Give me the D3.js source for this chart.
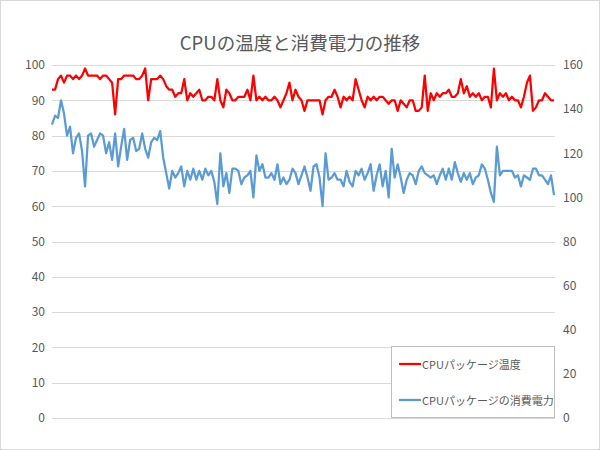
<!DOCTYPE html>
<html><head><meta charset="utf-8">
<script src="https://cdn.jsdelivr.net/npm/d3@7"></script>
<style>
html,body{margin:0;padding:0;background:#fff;}
svg{display:block;font-family:"Noto Sans CJK JP","Noto Sans",sans-serif;}
</style></head>
<body>
<svg id="chart" width="600" height="450"></svg>
<script>
const title = "CPUの温度と消費電力の推移";
const seriesNames = ["CPUパッケージ温度", "CPUパッケージの消費電力"];
const leftTicks = [0,10,20,30,40,50,60,70,80,90,100];
const rightTicks = [0,20,40,60,80,100,120,140,160];

const temperature = [
 93,93,96,97,95,97,97,96,97,96,
 97,99,97,97,97,97,96,97,97,96,
 95,86,96,96,97,97,97,97,96,96,
 97,99,90,96,96,96,97,96,94,93,
 93,91,92,92,96,90,92,91,92,93,
 90,90,91,91,90,96,90,88,93,92,
 90,90,91,91,91,93,90,97,90,91,
 90,91,90,90,91,90,88,90,92,95,
 90,93,91,90,87,90,90,90,90,90,
 86,90,91,91,93,91,88,91,90,91,
 90,96,93,90,88,91,90,91,90,91,
 91,90,89,90,90,87,90,89,88,90,
 90,87,87,88,97,87,92,90,92,91,
 92,92,93,91,91,92,96,92,94,91,
 92,91,92,90,91,91,88,99,90,92,
 91,92,90,91,90,90,88,91,95,97,
 87,88,90,90,92,91,90,90
];

const power = [
 133,137,136,144,138,128,132,120,127,129,
 121,105,128,129,123,126,129,128,120,125,
 117,129,114,123,131,117,126,127,121,122,
 129,122,118,125,127,126,130,118,111,104,
 112,109,111,114,105,112,108,113,108,112,
 108,113,110,112,107,97,120,105,111,102,
 113,113,112,106,109,110,112,100,119,112,
 115,109,109,111,108,115,106,109,106,108,
 113,111,106,110,114,109,103,114,115,109,
 96,120,108,109,111,108,108,105,112,107,
 105,112,110,113,108,111,115,103,110,115,
 105,112,100,122,109,115,109,102,108,111,
 110,106,112,114,111,110,109,110,106,110,
 113,108,113,108,116,111,107,111,108,111,
 106,109,110,115,113,108,102,98,123,110,
 112,112,112,112,109,110,105,110,109,108,
 113,113,110,110,108,106,110,101
];

const W = 600, H = 450;
const svg = d3.select("#chart");
const plot = {left:52, right:555, top:65, bottom:418};

svg.append("rect").attr("x",0.5).attr("y",0.5).attr("width",W-1).attr("height",H-1)
  .attr("fill","#fff").attr("stroke","#d9d9d9");

const x = d3.scaleLinear().domain([0, temperature.length-1]).range([52, 554]);
const yL = d3.scaleLinear().domain([0,100]).range([plot.bottom, plot.top]);
const yR = d3.scaleLinear().domain([0,160]).range([plot.bottom, plot.top]);

// gridlines
svg.append("g").selectAll("line").data(leftTicks).join("line")
  .attr("x1",plot.left).attr("x2",plot.right)
  .attr("y1",d=>Math.round(yL(d))+0.5).attr("y2",d=>Math.round(yL(d))+0.5)
  .attr("stroke","#d9d9d9").attr("stroke-width",1);

// left axis
const axL = svg.append("g").attr("transform",`translate(${plot.left-7},0)`)
  .call(d3.axisLeft(yL).tickValues(leftTicks).tickSize(0).tickPadding(0));
axL.select(".domain").remove();
axL.selectAll("text").attr("fill","#595959").style("font-size","12px").attr("font-family","'Noto Sans CJK JP'");

// right axis
const axR = svg.append("g").attr("transform",`translate(${plot.right+8},0)`)
  .call(d3.axisRight(yR).tickValues(rightTicks).tickSize(0).tickPadding(0));
axR.select(".domain").remove();
axR.selectAll("text").attr("fill","#595959").style("font-size","12px").attr("font-family","'Noto Sans CJK JP'");

// lines
const lineT = d3.line().x((d,i)=>x(i)).y(d=>yL(d));
const lineP = d3.line().x((d,i)=>x(i)).y(d=>yR(d));
svg.append("path").datum(power).attr("d",lineP).attr("fill","none")
  .attr("stroke","#5B9BD5").attr("stroke-width",2.25).attr("stroke-linejoin","round");
svg.append("path").datum(temperature).attr("d",lineT).attr("fill","none")
  .attr("stroke","#FF0000").attr("stroke-width",2.25).attr("stroke-linejoin","round");

// title
svg.append("text").attr("x",300).attr("y",42).attr("text-anchor","middle")
  .attr("dominant-baseline","central").attr("fill","#595959")
  .style("font-size","18.5px").text(title);

// legend
const lg = svg.append("g");
lg.append("rect").attr("x",391.5).attr("y",346.5).attr("width",163).attr("height",71)
  .attr("fill","#fff").attr("stroke","#bfbfbf");
const colors = ["#FF0000","#5B9BD5"];
const ly = [364, 400];
seriesNames.forEach((n,i)=>{
  lg.append("line").attr("x1",399).attr("x2",421).attr("y1",ly[i]).attr("y2",ly[i])
    .attr("stroke",colors[i]).attr("stroke-width",2.25);
  lg.append("text").attr("x",422).attr("y",ly[i]).attr("dominant-baseline","central")
    .attr("fill","#595959").style("font-size","11px").text(n);
});
</script>
</body></html>
